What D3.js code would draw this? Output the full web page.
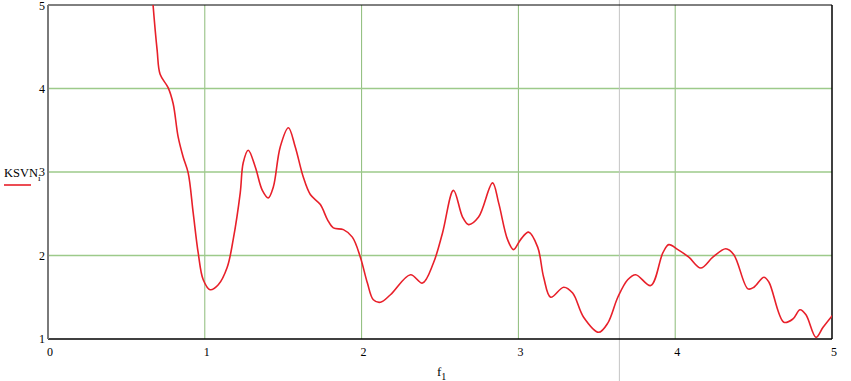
<!DOCTYPE html>
<html>
<head>
<meta charset="utf-8">
<script src="https://cdn.jsdelivr.net/npm/d3@7"></script>
<style>
  body { margin: 0; background: #fff; }
  text { font-family: "Liberation Serif", "Times New Roman", serif; }
</style>
</head>
<body>
<div id="chart"></div>
<script>
// frequency f1 and KSVN values
const freq = [0.655, 0.670, 0.696, 0.715, 0.766, 0.798, 0.830, 0.862, 0.894, 0.926, 0.958, 0.990,
  1.034, 1.086, 1.143, 1.181, 1.226, 1.245, 1.277, 1.322, 1.367, 1.405, 1.437, 1.481, 1.533,
  1.577, 1.628, 1.673, 1.737, 1.782, 1.820, 1.884, 1.941, 1.992, 2.037, 2.075, 2.120, 2.184,
  2.312, 2.388, 2.458, 2.516, 2.586, 2.644, 2.682, 2.746, 2.835, 2.874, 2.931, 2.969, 3.014,
  3.065, 3.123, 3.161, 3.206, 3.289, 3.346, 3.416, 3.512, 3.570, 3.634, 3.697, 3.748, 3.844,
  3.921, 3.959, 4.017, 4.087, 4.163, 4.240, 4.323, 4.374, 4.464, 4.502, 4.566, 4.598, 4.693,
  4.751, 4.796, 4.834, 4.898, 4.943, 5.006];
const ksvn = [5.40, 5.00, 4.46, 4.17, 4.01, 3.82, 3.42, 3.18, 2.99, 2.51, 2.03, 1.71,
  1.59, 1.65, 1.86, 2.19, 2.75, 3.11, 3.26, 3.06, 2.78, 2.69, 2.82, 3.30, 3.53,
  3.30, 2.94, 2.73, 2.61, 2.43, 2.33, 2.31, 2.22, 1.98, 1.67, 1.47, 1.44, 1.53,
  1.77, 1.67, 1.91, 2.27, 2.78, 2.46, 2.37, 2.46, 2.87, 2.63, 2.19, 2.07, 2.19,
  2.28, 2.10, 1.74, 1.50, 1.62, 1.55, 1.26, 1.08, 1.19, 1.50, 1.71, 1.77, 1.64,
  2.03, 2.13, 2.07, 1.98, 1.85, 1.98, 2.08, 2.01, 1.60, 1.62, 1.74, 1.68, 1.20,
  1.24, 1.35, 1.29, 1.02, 1.14, 1.29];

const xTicks = [0, 1, 2, 3, 4, 5];
const yTicks = [1, 2, 3, 4, 5];
const marker = 3.644;   // gray vertical marker line

const W = 851, H = 381;
const margin = {left: 48, top: 5, right: 20, bottom: 42};
const width = 832 - margin.left, height = 339 - margin.top;

const svg = d3.select("#chart").append("svg")
  .attr("width", W).attr("height", H);

const x = d3.scaleLinear().domain([0, 5]).range([margin.left, margin.left + width]);
const y = d3.scaleLinear().domain([1, 5]).range([margin.top + height, margin.top]);

svg.append("defs").append("clipPath").attr("id", "clip")
  .append("rect")
  .attr("x", x(0)).attr("y", y(5))
  .attr("width", width).attr("height", height);

// grid
svg.append("g").selectAll("line")
  .data(xTicks.filter(d => d > 0 && d < 5))
  .enter().append("line")
  .attr("x1", d => x(d)).attr("x2", d => x(d))
  .attr("y1", y(5)).attr("y2", y(1))
  .attr("stroke", "#8cbb78").attr("stroke-width", 1);

svg.append("g").selectAll("line")
  .data(yTicks.filter(d => d > 1 && d < 5))
  .enter().append("line")
  .attr("x1", x(0)).attr("x2", x(5))
  .attr("y1", d => y(d)).attr("y2", d => y(d))
  .attr("stroke", "#9dca8a").attr("stroke-width", 1.5);

// marker line
svg.append("line")
  .attr("x1", x(marker)).attr("x2", x(marker))
  .attr("y1", 0).attr("y2", H)
  .attr("stroke", "#c4c4c4").attr("stroke-width", 1);

// frame
svg.append("line").attr("x1", x(0)).attr("x2", x(5)).attr("y1", y(5)).attr("y2", y(5))
  .attr("stroke", "#000").attr("stroke-width", 1);
svg.append("line").attr("x1", x(0)).attr("x2", x(5)).attr("y1", y(1)).attr("y2", y(1))
  .attr("stroke", "#000").attr("stroke-width", 1.5);
svg.append("line").attr("x1", x(5)).attr("x2", x(5)).attr("y1", y(5)).attr("y2", y(1))
  .attr("stroke", "#000").attr("stroke-width", 1.5);
svg.append("line").attr("x1", x(0)).attr("x2", x(0)).attr("y1", y(5)).attr("y2", y(1))
  .attr("stroke", "#7a7a7a").attr("stroke-width", 2);

// curve
const pts = freq.map((f, i) => [f, ksvn[i]]);
const line = d3.line()
  .x(d => x(d[0])).y(d => y(d[1]))
  .curve(d3.curveCatmullRom.alpha(0.5));

svg.append("path")
  .datum(pts)
  .attr("clip-path", "url(#clip)")
  .attr("fill", "none")
  .attr("stroke", "#e8202a")
  .attr("stroke-width", 1.6)
  .attr("d", line);

// tick labels
svg.append("g").selectAll("text")
  .data(yTicks).enter().append("text")
  .attr("x", x(0) - 3).attr("y", d => Math.max(y(d) + 4, 10))
  .attr("text-anchor", "end").attr("font-size", 12)
  .text(d => d);

svg.append("g").selectAll("text")
  .data(xTicks).enter().append("text")
  .attr("x", d => x(d) + 2).attr("y", y(1) + 17)
  .attr("text-anchor", "middle").attr("font-size", 12)
  .text(d => d);

// axis title
const xt = svg.append("text").attr("x", 437).attr("y", 376).attr("font-size", 13);
xt.append("tspan").text("f");
xt.append("tspan").attr("dy", 4).attr("font-size", 10).text("1");

// legend
const lt = svg.append("text").attr("x", 4).attr("y", 177).attr("font-size", 12.5);
lt.append("tspan").text("KSVN");
lt.append("tspan").attr("dy", 4).attr("font-size", 9).text("i");

svg.append("line")
  .attr("x1", 4).attr("x2", 31).attr("y1", 185).attr("y2", 185)
  .attr("stroke", "#e8202a").attr("stroke-width", 1.6);
</script>
</body>
</html>
